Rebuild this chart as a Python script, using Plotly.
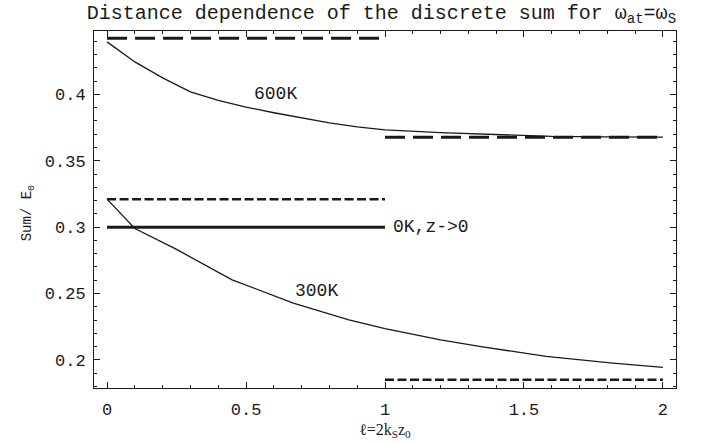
import plotly.graph_objects as go

# ---- data ----
x600 = [0, 0.1, 0.2, 0.3, 0.4, 0.5, 0.6, 0.7, 0.8, 0.9, 1.0, 1.2, 1.4, 1.6, 1.8, 2.0]
y600 = [0.4396, 0.4245, 0.4125, 0.4020, 0.3955, 0.3905, 0.3862, 0.3822, 0.3785,
        0.3755, 0.3733, 0.3712, 0.3696, 0.3684, 0.3680, 0.3678]

x300 = [0, 0.1, 0.25, 0.45, 0.67, 0.87, 1.0, 1.2, 1.34, 1.58, 1.82, 2.0]
y300 = [0.3211, 0.2990, 0.2832, 0.2603, 0.2428, 0.2302, 0.2235, 0.2150, 0.2101,
        0.2026, 0.1976, 0.1943]

x_left = [0, 1]
x_right = [1, 2]
lim600_small = 0.4423   # 600K, l -> 0
lim600_large = 0.3678   # 600K, l -> large
lim300_small = 0.3211   # 300K, l -> 0
lim300_large = 0.1850   # 300K, l -> large
lim0K = 0.30            # 0K, z -> 0

xticks = [0, 0.5, 1, 1.5, 2]
xticklabels = ["0", "0.5", "1", "1.5", "2"]
yticks = [0.2, 0.25, 0.3, 0.35, 0.4]
yticklabels = ["0.2", "0.25", "0.3", "0.35", "0.4"]

labels = ["600K", "300K", "0K,z->0"]
label_x = [0.605, 0.755, 1.022]
label_y = [0.4004, 0.2517, 0.300]

MONO = "Liberation Mono"
INK = "#1a1a1a"

fig = go.Figure()

def hline(xs, yv, width, dash):
    fig.add_trace(go.Scatter(x=xs, y=[yv] * len(xs), mode="lines",
                             line=dict(color=INK, width=width, dash=dash),
                             hoverinfo="skip", showlegend=False))

hline(x_left, lim600_small, 3, "20px,8px")
hline(x_right, lim600_large, 3, "20px,8px")
hline(x_left, lim300_small, 2.5, "9px,3.5px")
hline(x_right, lim300_large, 2.5, "9px,3.5px")
hline(x_left, lim0K, 3, "solid")

fig.add_trace(go.Scatter(x=x600, y=y600, mode="lines",
                         line=dict(color=INK, width=1.3), showlegend=False))
fig.add_trace(go.Scatter(x=x300, y=y300, mode="lines",
                         line=dict(color=INK, width=1.3), showlegend=False))

for t, lx, ly in zip(labels, label_x, label_y):
    fig.add_annotation(x=lx, y=ly, text=t, showarrow=False,
                       xanchor="left" if t.startswith("0K") else "center",
                       yanchor="middle",
                       font=dict(family=MONO, size=18, color=INK))

# axis labels
fig.add_annotation(xref="paper", yref="paper", x=-0.113, y=0.49,
                   text="Sum/ E<sub>0</sub>", textangle=-90, showarrow=False,
                   xanchor="center", yanchor="middle",
                   font=dict(family=MONO, size=14, color=INK))
fig.add_annotation(xref="x", yref="paper", x=1.0, y=-0.151,
                   text="ℓ=2k<sub>S</sub>z<sub>0</sub>", showarrow=False,
                   xanchor="center", yanchor="bottom",
                   font=dict(family="Liberation Serif", size=16, color=INK))

axis_common = dict(showline=True, linecolor=INK, linewidth=1, mirror="ticks",
                   ticks="inside", ticklen=6, tickwidth=1, tickcolor=INK,
                   showgrid=False, zeroline=False,
                   tickfont=dict(family=MONO, size=17, color=INK))

fig.update_layout(
    width=705, height=443,
    margin=dict(l=94, r=29, t=31, b=55),
    paper_bgcolor="white", plot_bgcolor="white",
    title=dict(text="Distance dependence of the discrete sum for ω<sub>at</sub>=ω<sub>S</sub>",
               xref="container", yref="container", x=0.123, y=0.973,
               xanchor="left", yanchor="middle",
               font=dict(family=MONO, size=20, color=INK)),
    xaxis=dict(range=[-0.047, 2.047], tickvals=xticks, ticktext=xticklabels,
               ticklabelstandoff=6,
               minor=dict(ticks="inside", ticklen=3, dtick=0.1, tick0=0,
                          tickcolor=INK, showgrid=False),
               **axis_common),
    yaxis=dict(range=[0.1788, 0.4478], tickvals=yticks, ticktext=yticklabels,
               ticklabelstandoff=4,
               minor=dict(ticks="inside", ticklen=3, dtick=0.01, tick0=0,
                          tickcolor=INK, showgrid=False),
               **axis_common),
)

fig.write_html("out.html")
